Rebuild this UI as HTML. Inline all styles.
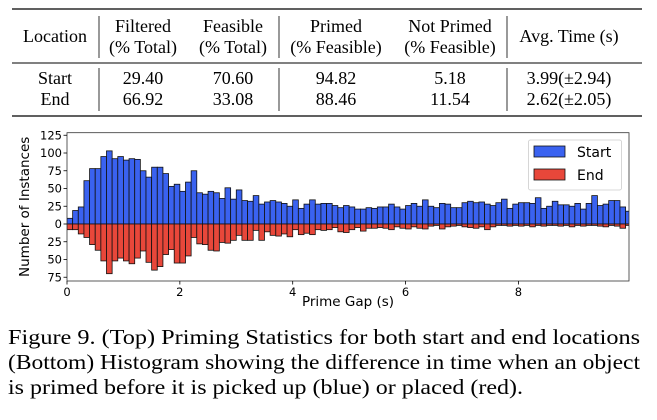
<!DOCTYPE html>
<html><head><meta charset="utf-8"><style>
body{margin:0;background:#fff;width:657px;height:420px;overflow:hidden}
svg{display:block}
.tb{font-family:"Liberation Serif",serif;font-size:18px;fill:#000}
.ax{font-family:"DejaVu Sans",sans-serif;fill:#000}
.cap{font-family:"Liberation Serif",serif;font-size:21px;fill:#000}
</style></head><body>
<svg id="root" width="657" height="420">
<g>
<line x1="12" y1="9" x2="642" y2="9" stroke="#000" stroke-width="1.3"/>
<line x1="12" y1="63" x2="642" y2="63" stroke="#000" stroke-width="0.9"/>
<line x1="12" y1="116" x2="642" y2="116" stroke="#000" stroke-width="1.3"/>
<g stroke="#000" stroke-width="0.8">
<line x1="99" y1="16" x2="99" y2="58"/><line x1="279" y1="16" x2="279" y2="58"/><line x1="507" y1="16" x2="507" y2="58"/>
<line x1="99" y1="68" x2="99" y2="111"/><line x1="279" y1="68" x2="279" y2="111"/><line x1="507" y1="68" x2="507" y2="111"/>
</g>
<g class="tb" text-anchor="middle">
<text x="55" y="42">Location</text>
<text x="143" y="32">Filtered</text><text x="143" y="53">(% Total)</text>
<text x="233" y="32">Feasible</text><text x="233" y="53">(% Total)</text>
<text x="336" y="32">Primed</text><text x="336" y="53">(% Feasible)</text>
<text x="450" y="32">Not Primed</text><text x="450" y="53">(% Feasible)</text>
<text x="569" y="42">Avg. Time (s)</text>
</g>
<g class="tb" text-anchor="middle">
<text x="55" y="84">Start</text><text x="143" y="84">29.40</text><text x="233" y="84">70.60</text><text x="336" y="84">94.82</text><text x="450" y="84">5.18</text><text x="569" y="84">3.99(±2.94)</text>
</g>
<g class="tb" text-anchor="middle">
<text x="55" y="105">End</text><text x="143" y="105">66.92</text><text x="233" y="105">33.08</text><text x="336" y="105">88.46</text><text x="450" y="105">11.54</text><text x="569" y="105">2.62(±2.05)</text>
</g>
</g>
<g id="chart"></g>
<g class="cap">
<text x="8" y="344" textLength="632" lengthAdjust="spacingAndGlyphs">Figure 9. (Top) Priming Statistics for both start and end locations</text>
<text x="8" y="369" textLength="632" lengthAdjust="spacingAndGlyphs">(Bottom) Histogram showing the difference in time when an object</text>
<text x="8" y="394" textLength="515" lengthAdjust="spacingAndGlyphs">is primed before it is picked up (blue) or placed (red).</text>
</g>
</svg>
<script>
const binWidth = 0.1;
const startCounts = [8,19,24,61,78,78,95,103,92,95,90,92,91,75,66,80,80,71,53,56,46,59,75,44,42,46,44,36,51,35,48,33,32,40,28,31,33,31,29,25,34,22,28,34,28,29,
29,26,23,26,24,21,21,23,22,24,24,28,24,21,26,29,25,34,25,23,29,28,23,23,30,32,30,31,28,26,30,35,22,28,30,30,29,37,22,25,32,27,27,25,29,21,29,40,26,28,33,33,24,18];
const endCounts = [8,8,14,19,29,37,52,70,52,48,52,56,48,38,54,65,60,43,36,55,55,45,19,28,29,37,38,26,27,23,16,23,23,9,23,11,16,17,14,18,8,15,13,15,8,9,
8,5,11,12,8,5,10,6,6,5,6,8,4,6,7,4,6,7,3,2,7,4,3,2,4,5,6,4,8,4,2,2,3,2,3,2,4,2,3,2,2,3,2,4,2,3,2,2,3,4,2,3,6,2];
const xTicks = [0,2,4,6,8];
const yTicks = [125,100,75,50,25,0,-25,-50,-75];

const NS = 'http://www.w3.org/2000/svg';
const g = document.getElementById('chart');
const L = 67, R = 629, T = 132.7, B = 281;
const xMin = 0, xMax = 9.96, yMin = -80.3, yMax = 128.6;
const sx = v => L + (v - xMin) / (xMax - xMin) * (R - L);
const sy = v => B - (v - yMin) / (yMax - yMin) * (B - T);
function mk(tag, attrs, parent) {
  const e = document.createElementNS(NS, tag);
  for (const k in attrs) e.setAttribute(k, attrs[k]);
  (parent || g).appendChild(e);
  return e;
}
const clip = mk('clipPath', {id: 'pc'});
mk('rect', {x: L, y: T, width: R - L, height: B - T}, clip);
const bars = mk('g', {'clip-path': 'url(#pc)'});


startCounts.forEach((v, i) => {
  const r = mk('rect', {x: sx(i * binWidth), y: sy(v), width: sx((i + 1) * binWidth) - sx(i * binWidth), height: sy(0) - sy(v), fill: '#3a62f0', stroke: '#111', 'stroke-width': 0.8}, bars);
  
  
});
endCounts.forEach((v, i) => {
  const r = mk('rect', {x: sx(i * binWidth), y: sy(0), width: sx((i + 1) * binWidth) - sx(i * binWidth), height: sy(-v) - sy(0), fill: '#e8473a', stroke: '#111', 'stroke-width': 0.8}, bars);
  
  
});
const frame = mk('rect', {x: L, y: T, width: R - L, height: B - T, fill: 'none', stroke: '#333', 'stroke-width': 0.8});


xTicks.forEach(t => {
  mk('line', {x1: sx(t), x2: sx(t), y1: B, y2: B + 3.5, stroke: '#000', 'stroke-width': 0.8});
  const tx = mk('text', {x: sx(t), y: B + 15, 'text-anchor': 'middle', class: 'ax', style: 'font-size:11.5px'});
  tx.textContent = t;
  
  
});
yTicks.forEach(t => {
  mk('line', {x1: L - 3.5, x2: L, y1: sy(t), y2: sy(t), stroke: '#000', 'stroke-width': 0.8});
  const tx = mk('text', {x: L - 5, y: sy(t) + 4.2, 'text-anchor': 'end', class: 'ax', style: 'font-size:11.5px'});
  tx.textContent = Math.abs(t);
  
  
});
const xl = mk('text', {x: (L + R) / 2, y: 306, 'text-anchor': 'middle', class: 'ax', style: 'font-size:13.5px'});
xl.textContent = 'Prime Gap (s)';


const yl = mk('text', {x: 0, y: 0, 'text-anchor': 'middle', class: 'ax', style: 'font-size:13.5px', transform: 'translate(29,' + ((T + B) / 2) + ') rotate(-90)'});
yl.textContent = 'Number of Instances';


const leg = mk('g', {});


mk('rect', {x: 528.5, y: 140, width: 93, height: 50, rx: 2, fill: '#fff', stroke: '#ccc', 'stroke-width': 0.8}, leg);
mk('rect', {x: 534, y: 146, width: 31, height: 11, fill: '#3a62f0', stroke: '#111', 'stroke-width': 0.8}, leg);
mk('rect', {x: 534, y: 169, width: 31, height: 11, fill: '#e8473a', stroke: '#111', 'stroke-width': 0.8}, leg);
const l1 = mk('text', {x: 577, y: 157, class: 'ax', style: 'font-size:14px'}, leg); l1.textContent = 'Start';


const l2 = mk('text', {x: 577, y: 180, class: 'ax', style: 'font-size:14px'}, leg); l2.textContent = 'End';


</script>
</body></html>
